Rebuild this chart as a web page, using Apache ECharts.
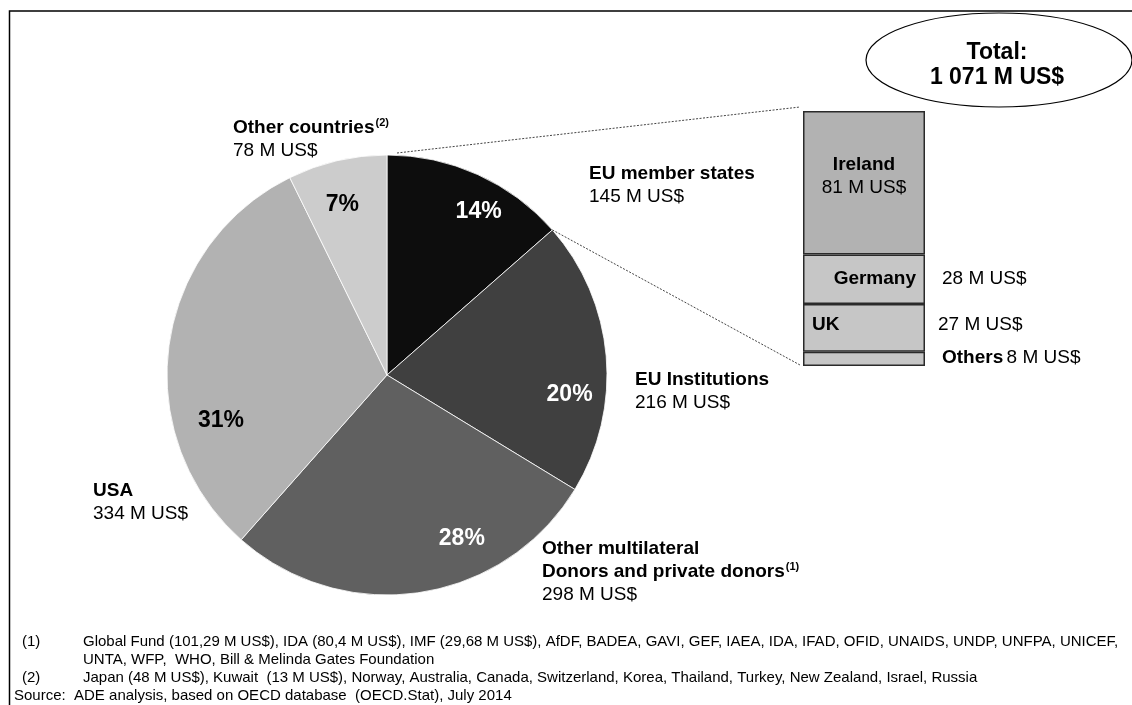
<!DOCTYPE html>
<html>
<head>
<meta charset="utf-8">
<script src="https://cdn.jsdelivr.net/npm/echarts@6/dist/echarts.min.js"></script>
<style>
  html, body { margin: 0; padding: 0; background: #fff; }
  #chart { width: 1132px; height: 705px; }
</style>
</head>
<body>
<div id="chart"></div>
<script>
// Donor groups (M US$)
const donorNames = ['EU member states', 'EU Institutions', 'Other multilateral Donors and private donors', 'USA', 'Other countries'];
const donorValues = [145, 216, 298, 334, 78];

// Breakdown of the EU member states slice (M US$), bottom to top
const memberNames = ['Others', 'UK', 'Germany', 'Ireland'];
const memberValues = [8, 27, 28, 81];

const footnoteMarks = ['(1)', '', '(2)'];
const footnoteLines = [
  'Global Fund (101,29 M US$), IDA (80,4 M US$), IMF (29,68 M US$), AfDF, BADEA, GAVI, GEF, IAEA, IDA, IFAD, OFID, UNAIDS, UNDP, UNFPA, UNICEF,',
  'UNTA, WFP,  WHO, Bill & Melinda Gates Foundation',
  'Japan (48 M US$), Kuwait  (13 M US$), Norway, Australia, Canada, Switzerland, Korea, Thailand, Turkey, New Zealand, Israel, Russia'
];
const sourceLine = 'Source:  ADE analysis, based on OECD database  (OECD.Stat), July 2014';

const FONT = '"Liberation Sans", Arial, Helvetica, sans-serif';
const sliceColors = ['#0d0d0d', '#404040', '#606060', '#b2b2b2', '#cccccc'];
const pctColors = ['#ffffff', '#ffffff', '#ffffff', '#000000', '#000000'];
const pctOffsets = [[45, -60], [70, 29], [58, 52], [-54, 61], [-19, -60]];
const memberColors = ['#c6c6c6', '#c6c6c6', '#c6c6c6', '#b2b2b2'];

const PIE_CX = 387, PIE_CY = 375, PIE_R = 220;
const donorTotal = donorValues.reduce((a, b) => a + b, 0);
const memberTotal = memberValues.reduce((a, b) => a + b, 0);
const fmtM = v => String(v).replace(/\B(?=(\d{3})+(?!\d))/g, ' ') + ' M US$';

const chart = echarts.init(document.getElementById('chart'), null, { renderer: 'canvas' });

const richLabel = {
  n: { fontFamily: FONT, fontWeight: 'bold', fontSize: 19, lineHeight: 23, color: '#000' },
  v: { fontFamily: FONT, fontSize: 19, lineHeight: 23, color: '#000' },
  s: { fontFamily: FONT, fontWeight: 'bold', fontSize: 11, lineHeight: 23, padding: [0, 0, 9, 1], color: '#000' }
};

// Outer labels of the donor groups: [index, left, top, name markup]
const outerLabels = [
  [4, 233, 116, '{n|Other countries}{s|(2)}'],
  [0, 589, 162, '{n|EU member states}'],
  [1, 635, 368, '{n|EU Institutions}'],
  [2, 542, 537, '{n|Other multilateral}\n{n|Donors and private donors}{s|(1)}'],
  [3, 93, 479, '{n|USA}']
];

const graphics = [
  {
    type: 'rect', id: 'frame', z: -10, silent: true,
    shape: { x: 9.5, y: 11, width: 1140, height: 720 },
    style: { fill: 'none', stroke: '#000', lineWidth: 1.5 }
  },
  {
    type: 'ellipse', id: 'totalEllipse', silent: true,
    shape: { cx: 999, cy: 60, rx: 133, ry: 47 },
    style: { fill: '#fff', stroke: '#000', lineWidth: 1.2 }
  },
  {
    type: 'text', id: 'totalText', silent: true, z: 10,
    style: {
      x: 997, y: 65, align: 'center', verticalAlign: 'middle',
      text: 'Total:\n' + fmtM(donorTotal),
      font: 'bold 23px ' + FONT, lineHeight: 25, fill: '#000'
    }
  }
];

outerLabels.forEach(([i, x, y, nameMarkup]) => {
  graphics.push({
    type: 'text', silent: true,
    style: {
      x: x, y: y, align: 'left', verticalAlign: 'top',
      text: nameMarkup + '\n{v|' + fmtM(donorValues[i]) + '}',
      rich: richLabel
    }
  });
});

const footY = [642, 660, 678];
footnoteLines.forEach((line, i) => {
  if (footnoteMarks[i]) {
    graphics.push({
      type: 'text', silent: true,
      style: { x: 22, y: footY[i], verticalAlign: 'middle', text: footnoteMarks[i], font: '15px ' + FONT, fill: '#000' }
    });
  }
  graphics.push({
    type: 'text', silent: true,
    style: { x: 83, y: footY[i], verticalAlign: 'middle', text: line, font: '15px ' + FONT, fill: '#000' }
  });
});
graphics.push({
  type: 'text', silent: true,
  style: { x: 14, y: 696, verticalAlign: 'middle', text: sourceLine, font: '15px ' + FONT, fill: '#000' }
});

const memberLabelSpecs = {
  Ireland: { show: true, position: 'inside', offset: [0, -6], formatter: p => '{n|' + p.seriesName + '}\n{v|' + fmtM(p.value) + '}' },
  Germany: { show: true, position: 'insideRight', distance: 9, formatter: p => '{n|' + p.seriesName + '}' },
  UK: { show: true, position: 'insideLeft', distance: 9, offset: [0, -3], formatter: p => '{n|' + p.seriesName + '}' },
  Others: { show: false }
};
const memberValueSpecs = {
  Ireland: { show: false },
  Germany: { show: true, position: 'right', distance: 17, formatter: p => '{v|' + fmtM(p.value) + '}' },
  UK: { show: true, position: 'right', distance: 13, offset: [0, -3], formatter: p => '{v|' + fmtM(p.value) + '}' },
  Others: { show: true, position: 'right', distance: 17, offset: [0, -1], formatter: p => '{n|' + p.seriesName + '} {v|' + fmtM(p.value) + '}' }
};

const barSeries = [];
memberNames.forEach((name, i) => {
  barSeries.push({
    type: 'bar', name: name, stack: 'members', xAxisIndex: 0, yAxisIndex: 0,
    barWidth: '100%', silent: true,
    data: [memberValues[i]],
    itemStyle: { color: memberColors[i], borderColor: '#2a2a2a', borderWidth: 1.5 },
    label: Object.assign({ rich: richLabel }, memberLabelSpecs[name])
  });
});
memberNames.forEach((name, i) => {
  barSeries.push({
    type: 'bar', name: name, stack: 'memberValues', xAxisIndex: 1, yAxisIndex: 0,
    barWidth: '100%', silent: true, z: 3,
    data: [memberValues[i]],
    itemStyle: { color: 'rgba(0,0,0,0)' },
    label: Object.assign({ rich: richLabel }, memberValueSpecs[name])
  });
});

const option = {
  animation: false,
  backgroundColor: '#fff',
  grid: { left: 803, top: 111, width: 122, height: 255, containLabel: false },
  xAxis: [
    { type: 'category', data: ['EU member states'], show: false },
    { type: 'category', data: ['EU member states'], show: false }
  ],
  yAxis: { type: 'value', min: 0, max: memberTotal, show: false, splitLine: { show: false } },
  graphic: graphics,
  series: [
    {
      type: 'pie', name: 'Donors',
      center: [PIE_CX, PIE_CY], radius: PIE_R,
      startAngle: 90, clockwise: true, silent: true,
      itemStyle: { borderColor: '#ffffff', borderWidth: 0.8 },
      label: {
        show: true, position: 'inside',
        fontFamily: FONT, fontWeight: 'bold', fontSize: 23,
        formatter: p => Math.round(p.percent) + '%'
      },
      labelLine: { show: false },
      emphasis: { disabled: true },
      data: donorNames.map((n, i) => ({
        name: n, value: donorValues[i],
        itemStyle: { color: sliceColors[i] },
        label: { color: pctColors[i], offset: pctOffsets[i] }
      }))
    }
  ].concat(barSeries)
};

chart.setOption(option);

// Dotted leader lines from the EU member states slice to the breakdown bar
const rect = chart.getModel().getComponent('grid', 0).coordinateSystem.getRect();
const topPt = chart.convertToPixel({ xAxisIndex: 0, yAxisIndex: 0 }, [0, memberTotal]);
const botPt = chart.convertToPixel({ xAxisIndex: 0, yAxisIndex: 0 }, [0, 0]);
const sliceEnd = (90 - 360 * donorValues[0] / donorTotal) * Math.PI / 180;
const p1 = [PIE_CX, PIE_CY - PIE_R];
const p2 = [PIE_CX + PIE_R * Math.cos(sliceEnd), PIE_CY - PIE_R * Math.sin(sliceEnd)];
chart.setOption({
  graphic: [
    {
      type: 'line', id: 'leaderTop', silent: true, z: 5,
      shape: { x1: p1[0] + 10, y1: p1[1] - 2, x2: rect.x - 3, y2: topPt[1] - 4 },
      style: { stroke: '#444', lineWidth: 1, lineDash: [2, 1.5] }
    },
    {
      type: 'line', id: 'leaderBottom', silent: true, z: 5,
      shape: { x1: p2[0], y1: p2[1], x2: rect.x - 3, y2: botPt[1] - 1 },
      style: { stroke: '#444', lineWidth: 1, lineDash: [2, 1.5] }
    }
  ]
});
</script>
</body>
</html>
